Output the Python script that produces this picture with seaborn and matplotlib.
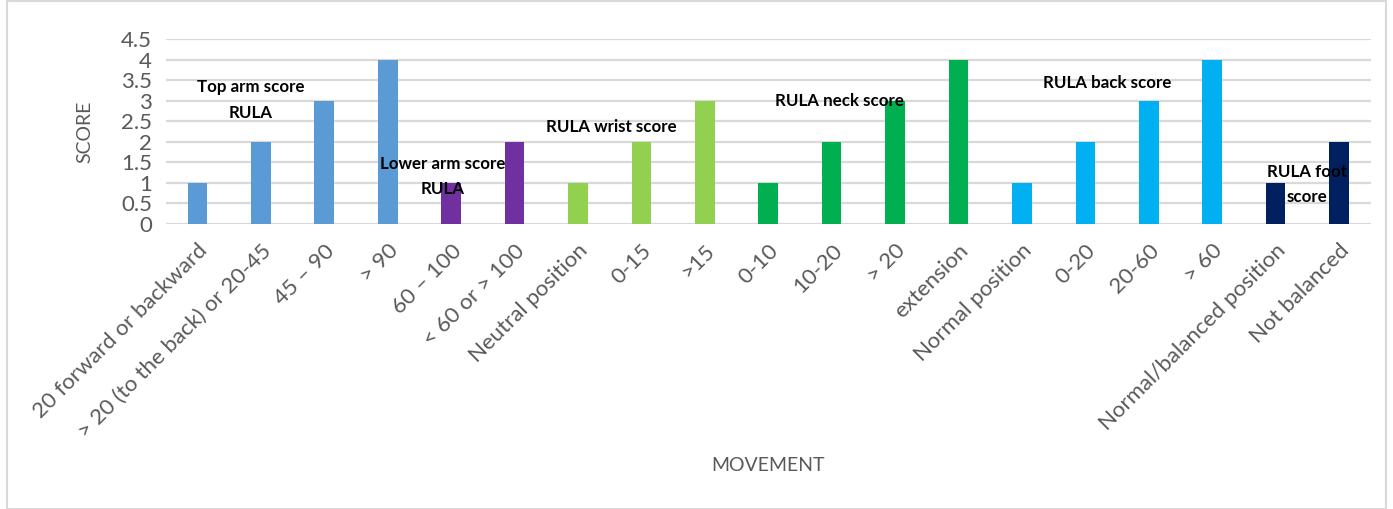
import pandas as pd
import numpy as np
import matplotlib.pyplot as plt
import seaborn as sns
from matplotlib.patches import Rectangle

# data
movements = ["20 forward or backward", "> 20 (to the back) or 20-45", "45 \u2013 90", "> 90",
             "60 \u2013 100", "< 60 or > 100",
             "Neutral position", "0-15", ">15",
             "0-10", "10-20", "> 20", "extension",
             "Normal position", "0-20", "20-60", "> 60",
             "Normal/balanced position", "Not balanced"]
scores = [1, 2, 3, 4, 1, 2, 1, 2, 3, 1, 2, 3, 4, 1, 2, 3, 4, 1, 2]
groups = ["top"] * 4 + ["lower"] * 2 + ["wrist"] * 3 + ["neck"] * 4 + ["back"] * 4 + ["foot"] * 2

palette = {"top": "#5B9BD5", "lower": "#7030A0", "wrist": "#92D050",
           "neck": "#00B050", "back": "#00B0F0", "foot": "#002060"}

group_labels = ["Top arm score\nRULA", "Lower arm score\nRULA", "RULA wrist score",
                "RULA neck score", "RULA back score", "RULA foot\nscore"]
label_x = [0.84, 3.87, 6.52, 10.12, 14.35, 17.5]
label_y = [3.02, 1.15, 2.36, 3.0, 3.43, 0.97]

df = pd.DataFrame({"movement": movements, "score": scores, "group": groups})

sns.set_style("white")
plt.rcParams['font.family'] = ['Lato', 'DejaVu Sans']

fig = plt.figure(figsize=(13.93, 5.09), dpi=100)
ax = fig.add_axes([0.119, 0.56, 0.865, 0.363])

sns.barplot(data=df, x="movement", y="score", hue="group", palette=palette,
            dodge=False, width=0.31, saturation=1, linewidth=0,
            legend=False, ax=ax, zorder=3)

ax.set_ylim(0, 4.5)
ax.set_yticks(np.arange(0, 4.51, 0.5))
ax.set_yticklabels(["0", "0.5", "1", "1.5", "2", "2.5", "3", "3.5", "4", "4.5"])
ax.set_xlim(-0.5, len(movements) - 0.5)
ax.yaxis.grid(True, color="#D9D9D9", linewidth=1.6, zorder=0)
ax.set_axisbelow(True)
for s in ax.spines.values():
    s.set_visible(False)
ax.tick_params(axis="both", length=0, colors="#595959")
ax.tick_params(axis="y", labelsize=16, pad=10)
ax.tick_params(axis="x", labelsize=16, pad=12)
plt.setp(ax.get_xticklabels(), rotation=45, ha="right", rotation_mode="anchor")

ax.set_ylabel("SCORE", fontsize=14, color="#595959", labelpad=20)
ax.set_xlabel("")
fig.text(0.551, 0.085, "MOVEMENT", fontsize=14, color="#595959", ha="center", va="center")

for txt, x, y in zip(group_labels, label_x, label_y):
    ax.text(x, y, txt, ha="center", va="center", fontsize=12.2, fontweight="bold",
            color="black", linespacing=1.7, zorder=5)

fig.patches.append(Rectangle((0.005, 0.0), 0.99, 0.998, transform=fig.transFigure,
                             fill=False, edgecolor="#D9D9D9", linewidth=1.5))

fig.savefig("out.png", dpi=100)
